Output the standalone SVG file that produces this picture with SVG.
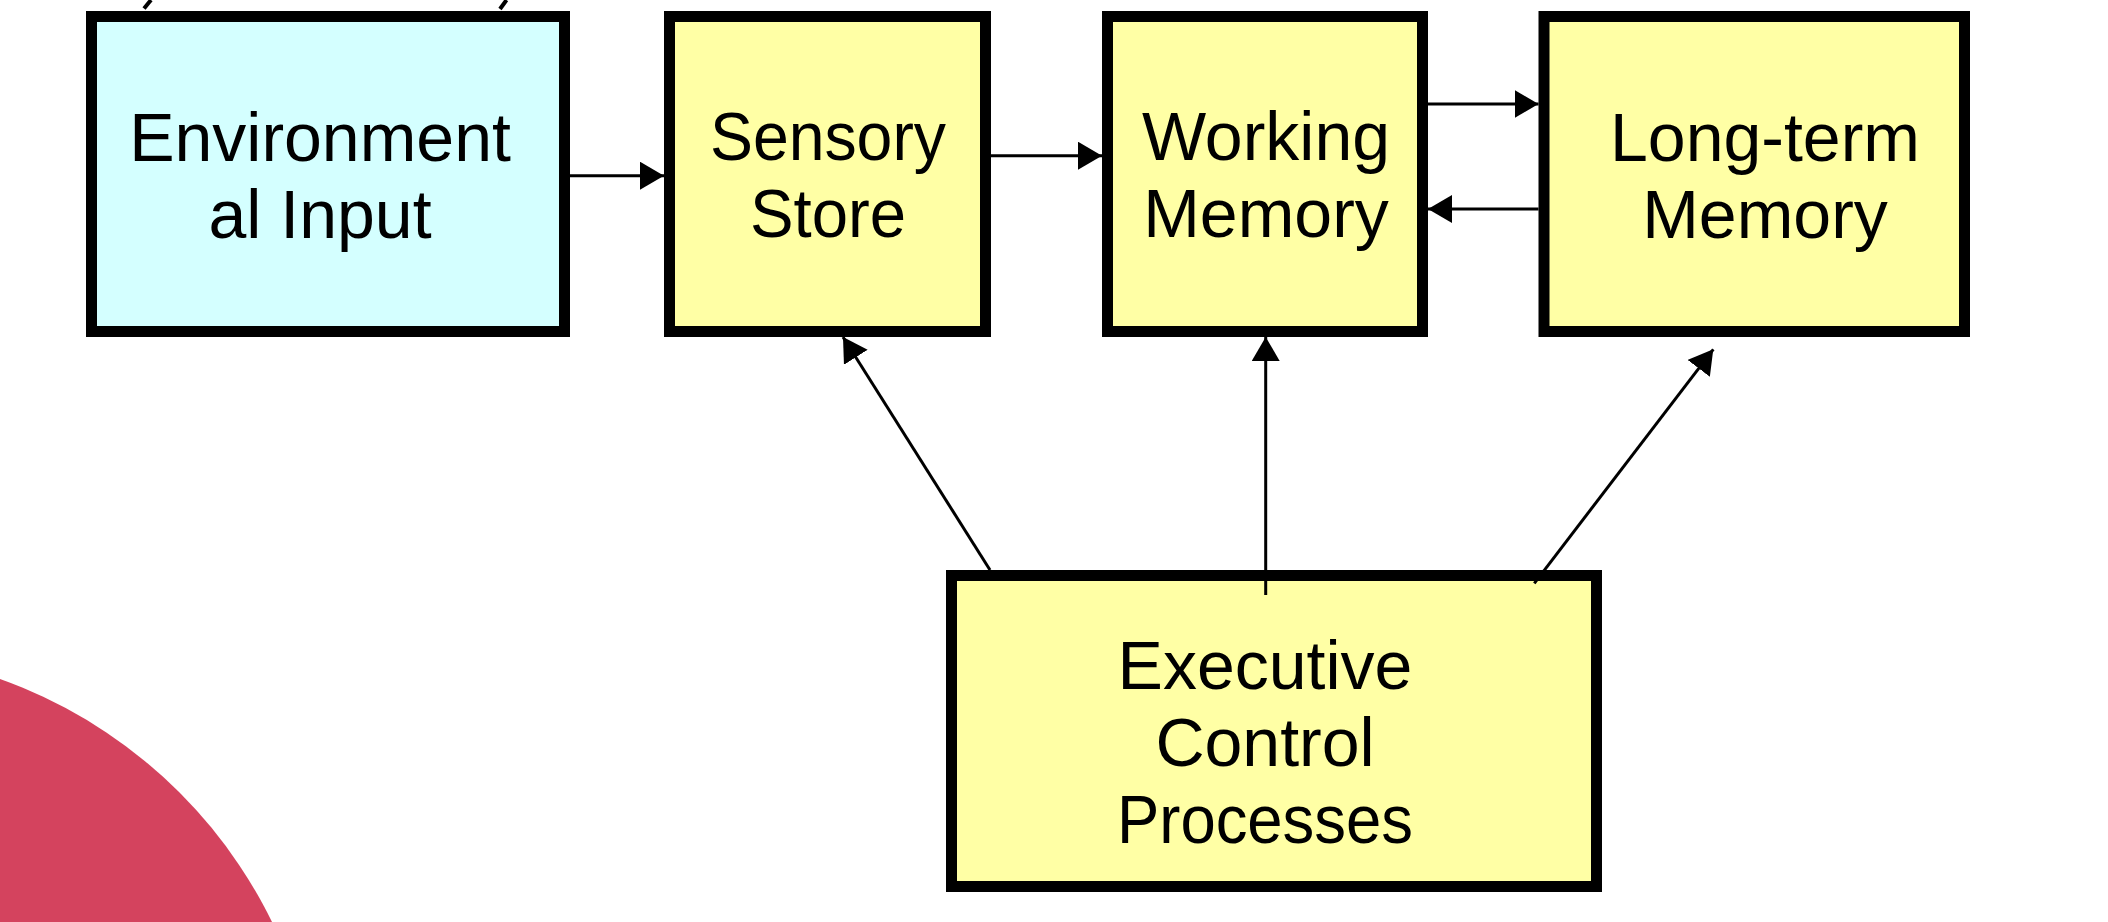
<svg xmlns="http://www.w3.org/2000/svg" width="2108" height="922" viewBox="0 0 2108 922">
  <style>
    .box { stroke: #000; stroke-width: 11; }
    .env { fill: #D4FFFF; }
    .yel { fill: #FFFFA5; }
    .lbl { font-family: "Liberation Sans", Arial, sans-serif; font-size: 68px; fill: #000; text-anchor: middle; }
    .conn { stroke: #000; stroke-width: 3; fill: none; marker-end: url(#arrow); }
  </style>
  <defs>
    <marker id="arrow" markerUnits="userSpaceOnUse" markerWidth="26" markerHeight="30" refX="24" refY="14" orient="auto">
      <path d="M0,0 L24,14 L0,28 z" fill="#000"/>
    </marker>
  </defs>
  <rect width="2108" height="922" fill="#FFFFFF"/>
  <circle id="backdrop" cx="-162" cy="1134" r="483" fill="#D4435E"/>
  <g id="topmarks" stroke="#000" stroke-width="4">
    <line x1="151" y1="0" x2="144" y2="8.5"/>
    <line x1="506.5" y1="0" x2="500" y2="9"/>
  </g>
  <g id="environmental-input">
    <rect class="box env" x="91.5" y="16.5" width="473" height="315"/>
    <text class="lbl" x="320" y="161">Environment</text>
    <text class="lbl" x="320" y="238">al Input</text>
  </g>
  <g id="sensory-store">
    <rect class="box yel" x="669.5" y="16.5" width="316" height="315"/>
    <text class="lbl" x="828" y="160" textLength="236" lengthAdjust="spacingAndGlyphs">Sensory</text>
    <text class="lbl" x="828" y="237" textLength="156" lengthAdjust="spacingAndGlyphs">Store</text>
  </g>
  <g id="working-memory">
    <rect class="box yel" x="1107.5" y="16.5" width="315" height="315"/>
    <text class="lbl" x="1266" y="160">Working</text>
    <text class="lbl" x="1266" y="237">Memory</text>
  </g>
  <g id="long-term-memory">
    <rect class="box yel" x="1544" y="16.5" width="420.5" height="315"/>
    <text class="lbl" x="1765" y="161">Long-term</text>
    <text class="lbl" x="1765" y="238">Memory</text>
  </g>
  <g id="executive-control">
    <rect class="box yel" x="951.5" y="575.5" width="645" height="311"/>
    <text class="lbl" x="1265" y="689">Executive</text>
    <text class="lbl" x="1265" y="766">Control</text>
    <text class="lbl" x="1265" y="843" textLength="296" lengthAdjust="spacingAndGlyphs">Processes</text>
  </g>
  <g id="connectors">
    <line class="conn" x1="570" y1="175.7" x2="664" y2="175.7"/>
    <line class="conn" x1="991" y1="155.7" x2="1102" y2="155.7"/>
    <line class="conn" x1="1428" y1="104" x2="1538.5" y2="104"/>
    <line class="conn" x1="1538.5" y1="209" x2="1428" y2="209"/>
    <line class="conn" x1="990" y1="570" x2="843" y2="337"/>
    <line class="conn" x1="1265.7" y1="595" x2="1265.7" y2="337"/>
    <line class="conn" x1="1534.3" y1="583.3" x2="1713.3" y2="349.3"/>
  </g>
</svg>
